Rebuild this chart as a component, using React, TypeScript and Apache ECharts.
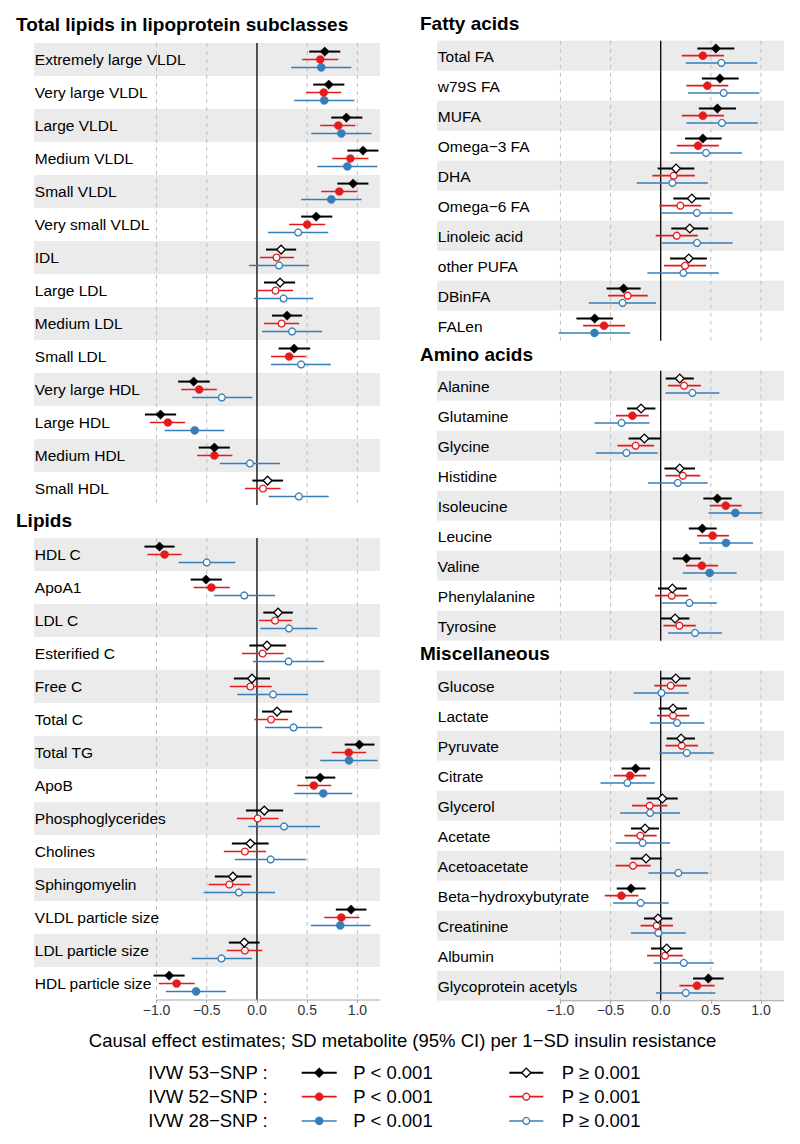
import React, { useEffect, useRef } from 'react';
import * as echarts from 'echarts';

// ---------------- DATA ----------------
// each entry: [estimate, lower 95% CI, upper 95% CI, significant (1 = P < 0.001)]
const lipoCats = [
  'Extremely large VLDL', 'Very large VLDL', 'Large VLDL', 'Medium VLDL', 'Small VLDL',
  'Very small VLDL', 'IDL', 'Large LDL', 'Medium LDL', 'Small LDL',
  'Very large HDL', 'Large HDL', 'Medium HDL', 'Small HDL',
];
const lipo53 = [
  [0.675, 0.52, 0.83, 1], [0.715, 0.56, 0.87, 1], [0.89, 0.74, 1.05, 1], [1.056, 0.9, 1.21, 1],
  [0.957, 0.8, 1.11, 1], [0.59, 0.44, 0.75, 1], [0.24, 0.09, 0.39, 0], [0.23, 0.07, 0.38, 0],
  [0.3, 0.15, 0.45, 1], [0.37, 0.215, 0.53, 1], [-0.63, -0.785, -0.47, 1], [-0.96, -1.116, -0.805, 1],
  [-0.424, -0.58, -0.27, 1], [0.106, -0.046, 0.26, 0],
];
const lipo52 = [
  [0.63, 0.45, 0.81, 1], [0.665, 0.49, 0.84, 1], [0.81, 0.63, 0.98, 1], [0.93, 0.75, 1.11, 1],
  [0.82, 0.64, 1.0, 1], [0.5, 0.32, 0.68, 1], [0.195, 0.03, 0.37, 0], [0.185, 0.01, 0.36, 0],
  [0.245, 0.07, 0.42, 0], [0.32, 0.14, 0.49, 1], [-0.575, -0.755, -0.4, 1], [-0.887, -1.066, -0.715, 1],
  [-0.424, -0.596, -0.245, 1], [0.06, -0.12, 0.235, 0],
];
const lipo28 = [
  [0.64, 0.34, 0.94, 1], [0.67, 0.37, 0.97, 1], [0.84, 0.54, 1.14, 1], [0.9, 0.6, 1.2, 1],
  [0.74, 0.44, 1.04, 1], [0.41, 0.11, 0.71, 0], [0.22, -0.08, 0.52, 0], [0.265, -0.03, 0.56, 0],
  [0.35, 0.05, 0.65, 0], [0.44, 0.14, 0.735, 0], [-0.35, -0.645, -0.046, 0], [-0.62, -0.92, -0.325, 1],
  [-0.07, -0.37, 0.23, 0], [0.417, 0.116, 0.715, 0],
];

const lipidCats = [
  'HDL C', 'ApoA1', 'LDL C', 'Esterified C', 'Free C', 'Total C', 'Total TG', 'ApoB',
  'Phosphoglycerides', 'Cholines', 'Sphingomyelin', 'VLDL particle size', 'LDL particle size', 'HDL particle size',
];
const lipid53 = [
  [-0.97, -1.12, -0.82, 1], [-0.507, -0.66, -0.35, 1], [0.21, 0.063, 0.357, 0], [0.1, -0.076, 0.29, 0],
  [-0.05, -0.23, 0.13, 0], [0.2, 0.05, 0.35, 0], [1.02, 0.874, 1.17, 1], [0.63, 0.48, 0.78, 1],
  [0.073, -0.11, 0.26, 0], [-0.066, -0.25, 0.116, 0], [-0.24, -0.42, -0.053, 0], [0.937, 0.785, 1.09, 1],
  [-0.126, -0.28, 0.026, 0], [-0.874, -1.03, -0.72, 1],
];
const lipid52 = [
  [-0.92, -1.09, -0.75, 1], [-0.454, -0.63, -0.27, 1], [0.18, 0.02, 0.35, 0], [0.056, -0.15, 0.265, 0],
  [-0.066, -0.27, 0.146, 0], [0.14, -0.026, 0.31, 0], [0.914, 0.745, 1.086, 1], [0.566, 0.4, 0.74, 1],
  [0.007, -0.2, 0.215, 0], [-0.12, -0.33, 0.09, 0], [-0.275, -0.48, -0.066, 0], [0.84, 0.67, 1.02, 1],
  [-0.12, -0.3, 0.053, 0], [-0.8, -0.977, -0.62, 1],
];
const lipid28 = [
  [-0.5, -0.78, -0.215, 0], [-0.126, -0.427, 0.18, 0], [0.318, 0.033, 0.6, 0], [0.315, -0.04, 0.67, 0],
  [0.16, -0.195, 0.51, 0], [0.364, 0.08, 0.65, 0], [0.917, 0.63, 1.2, 1], [0.66, 0.37, 0.95, 1],
  [0.27, -0.086, 0.626, 0], [0.136, -0.22, 0.487, 0], [-0.18, -0.53, 0.18, 0], [0.83, 0.536, 1.13, 1],
  [-0.354, -0.65, -0.05, 0], [-0.606, -0.907, -0.308, 1],
];

const faCats = [
  'Total FA', 'w79S FA', 'MUFA', 'Omega\u22123 FA', 'DHA', 'Omega\u22126 FA', 'Linoleic acid', 'other PUFA', 'DBinFA', 'FALen',
];
const fa53 = [
  [0.55, 0.365, 0.734, 1], [0.59, 0.41, 0.777, 1], [0.565, 0.38, 0.75, 1], [0.42, 0.243, 0.608, 1],
  [0.153, -0.03, 0.335, 0], [0.31, 0.126, 0.49, 0], [0.29, 0.106, 0.475, 0], [0.28, 0.093, 0.46, 0],
  [-0.37, -0.54, -0.2, 1], [-0.658, -0.84, -0.475, 1],
];
const fa52 = [
  [0.42, 0.21, 0.63, 1], [0.465, 0.256, 0.674, 1], [0.42, 0.21, 0.63, 1], [0.372, 0.16, 0.58, 1],
  [0.13, -0.083, 0.34, 0], [0.196, -0.013, 0.405, 0], [0.16, -0.05, 0.37, 0], [0.243, 0.033, 0.452, 0],
  [-0.33, -0.525, -0.13, 0], [-0.565, -0.774, -0.355, 1],
];
const fa28 = [
  [0.605, 0.25, 0.963, 0], [0.628, 0.272, 0.983, 0], [0.61, 0.256, 0.967, 0], [0.452, 0.093, 0.81, 0],
  [0.116, -0.24, 0.47, 0], [0.36, 0.0, 0.718, 0], [0.362, 0.007, 0.718, 0], [0.226, -0.133, 0.58, 0],
  [-0.38, -0.718, -0.047, 0], [-0.66, -1.017, -0.305, 1],
];

const aaCats = [
  'Alanine', 'Glutamine', 'Glycine', 'Histidine', 'Isoleucine', 'Leucine', 'Valine', 'Phenylalanine', 'Tyrosine',
];
const aa53 = [
  [0.19, 0.05, 0.33, 0], [-0.196, -0.335, -0.053, 0], [-0.163, -0.32, 0.0, 0], [0.19, 0.037, 0.342, 0],
  [0.565, 0.425, 0.708, 1], [0.415, 0.28, 0.558, 1], [0.256, 0.12, 0.4, 1], [0.116, -0.027, 0.26, 0],
  [0.143, 0.003, 0.286, 0],
];
const aa52 = [
  [0.233, 0.073, 0.4, 0], [-0.282, -0.445, -0.12, 1], [-0.25, -0.432, -0.066, 0], [0.22, 0.047, 0.395, 0],
  [0.648, 0.488, 0.807, 1], [0.518, 0.362, 0.68, 1], [0.41, 0.252, 0.571, 1], [0.11, -0.056, 0.276, 0],
  [0.186, 0.027, 0.35, 0],
];
const aa28 = [
  [0.316, 0.047, 0.585, 0], [-0.39, -0.66, -0.113, 0], [-0.342, -0.648, -0.03, 0], [0.17, -0.126, 0.468, 0],
  [0.744, 0.475, 1.013, 1], [0.651, 0.382, 0.92, 1], [0.488, 0.22, 0.757, 1], [0.286, 0.007, 0.56, 0],
  [0.342, 0.073, 0.61, 0],
];

const miscCats = [
  'Glucose', 'Lactate', 'Pyruvate', 'Citrate', 'Glycerol', 'Acetate', 'Acetoacetate',
  'Beta\u2212hydroxybutyrate', 'Creatinine', 'Albumin', 'Glycoprotein acetyls',
];
const misc53 = [
  [0.15, 0.003, 0.296, 0], [0.123, -0.02, 0.262, 0], [0.203, 0.06, 0.342, 0], [-0.25, -0.39, -0.106, 1],
  [0.017, -0.14, 0.17, 0], [-0.156, -0.296, -0.017, 0], [-0.146, -0.3, 0.01, 0], [-0.296, -0.438, -0.15, 1],
  [-0.027, -0.166, 0.116, 0], [0.06, -0.096, 0.216, 0], [0.475, 0.322, 0.628, 1],
];
const misc52 = [
  [0.1, -0.063, 0.262, 0], [0.123, -0.037, 0.286, 0], [0.21, 0.047, 0.372, 0], [-0.306, -0.468, -0.143, 1],
  [-0.11, -0.286, 0.066, 0], [-0.203, -0.362, -0.04, 0], [-0.276, -0.45, -0.1, 0], [-0.392, -0.558, -0.223, 1],
  [-0.04, -0.2, 0.123, 0], [0.043, -0.136, 0.22, 0], [0.362, 0.186, 0.538, 1],
];
const misc28 = [
  [0.007, -0.27, 0.28, 0], [0.163, -0.106, 0.435, 0], [0.26, -0.013, 0.528, 0], [-0.332, -0.6, -0.06, 0],
  [-0.106, -0.405, 0.193, 0], [-0.18, -0.45, 0.093, 0], [0.176, -0.123, 0.475, 0], [-0.2, -0.475, 0.08, 0],
  [-0.023, -0.296, 0.25, 0], [0.23, -0.07, 0.53, 0], [0.25, -0.047, 0.545, 0],
];

const xTicks = [-1, -0.5, 0, 0.5, 1];
const modelNames = ['IVW 53\u2212SNP :', 'IVW 52\u2212SNP :', 'IVW 28\u2212SNP :'];
const sigLabels = ['P < 0.001', 'P \u2265 0.001'];
const axisTitle = 'Causal effect estimates; SD metabolite (95% CI) per 1\u2212SD insulin resistance';
const panelTitles = ['Total lipids in lipoprotein subclasses', 'Lipids', 'Fatty acids', 'Amino acids', 'Miscellaneous'];

// ---------------- STYLE / LAYOUT ----------------
const FONT = "'Liberation Sans', Arial, Helvetica, sans-serif";
const MODEL_COLORS = ['#000000', '#E41A1C', '#377EB8'];
const MODEL_LW = [2, 1.7, 1.5];
const MODEL_OFFSET = [-0.24, 0, 0.24];
const MODEL_SHAPE = ['diamond', 'circle', 'circle'];

const panels = [
  { cats: lipoCats, sets: [lipo53, lipo52, lipo28], axis: false, left: 34, width: 346, top: 43, rowH: 33, xmin: -2.22, xmax: 1.225, tx: 16, ty: 24.5 },
  { cats: lipidCats, sets: [lipid53, lipid52, lipid28], axis: true, left: 34, width: 346, top: 538, rowH: 33, xmin: -2.22, xmax: 1.225, tx: 16, ty: 520.5 },
  { cats: faCats, sets: [fa53, fa52, fa28], axis: false, left: 437, width: 347, top: 40.7, rowH: 30, xmin: -2.23, xmax: 1.229, tx: 420, ty: 23 },
  { cats: aaCats, sets: [aa53, aa52, aa28], axis: false, left: 437, width: 347, top: 370.7, rowH: 30, xmin: -2.23, xmax: 1.229, tx: 420, ty: 354 },
  { cats: miscCats, sets: [misc53, misc52, misc28], axis: true, left: 437, width: 347, top: 670.7, rowH: 30, xmin: -2.23, xmax: 1.229, tx: 420, ty: 653.3 },
];

function markerShape(shape: string, x: number, y: number, color: string, filled: boolean, legend = false): any {
  if (shape === 'diamond') {
    const r = filled ? (legend ? 5 : 4.7) : (legend ? 4.6 : 4.4);
    return {
      type: 'polygon',
      shape: { points: [[x, y - r], [x + r, y], [x, y + r], [x - r, y]] },
      style: { fill: filled ? color : '#ffffff', stroke: color, lineWidth: filled ? 0.5 : 1.3 },
    };
  }
  return {
    type: 'circle',
    shape: { cx: x, cy: y, r: filled ? 4.1 : 3.4 },
    style: { fill: filled ? color : '#ffffff', stroke: color, lineWidth: filled ? 0.3 : 1.3 },
  };
}

const fmtTick = (v: number) => (v < 0 ? '\u2212' : '') + Math.abs(v).toFixed(1);

function buildOption() {
  const grid: any[] = [];
  const xAxis: any[] = [];
  const yAxis: any[] = [];
  const series: any[] = [];
  const graphic: any[] = [];

  panels.forEach((p, gi) => {
    const n = p.cats.length;
    grid.push({ left: p.left, top: p.top, width: p.width, height: n * p.rowH, containLabel: false });
    xAxis.push({
      gridIndex: gi, type: 'value', min: p.xmin, max: p.xmax, show: p.axis,
      axisLine: { show: false, onZero: false },
      splitLine: { show: false },
      axisTick: { show: true, customValues: xTicks, length: 3, lineStyle: { color: '#A6A6A6', width: 1 } },
      axisLabel: { customValues: xTicks, formatter: fmtTick, fontSize: 14, color: '#333333', margin: 2.5, fontFamily: FONT },
    });
    yAxis.push({ gridIndex: gi, type: 'value', min: 0, max: n, inverse: true, show: false });

    // bands
    series.push({
      type: 'custom', xAxisIndex: gi, yAxisIndex: gi, z: 1, silent: true,
      data: p.cats.map((_, i) => [0, i]), encode: { x: 0, y: 1 },
      renderItem: (params: any, api: any) => {
        const i = api.value(1);
        const cs = params.coordSys;
        if (i % 2 !== 0) return { type: 'group', children: [] };
        const a = api.coord([0, i]);
        const b = api.coord([0, i + 1]);
        return { type: 'rect', shape: { x: cs.x, y: a[1], width: cs.width, height: b[1] - a[1] }, style: { fill: '#EBEBEB' } };
      },
    });
    // reference lines
    series.push({
      type: 'custom', xAxisIndex: gi, yAxisIndex: gi, z: 2, silent: true,
      data: xTicks.map((v) => [v, 0]), encode: { x: 0, y: 1 },
      renderItem: (params: any, api: any) => {
        const cs = params.coordSys;
        const v = api.value(0);
        const x = api.coord([v, 0])[0];
        const isZero = v === 0;
        return {
          type: 'line',
          shape: { x1: x, y1: cs.y, x2: x, y2: cs.y + cs.height },
          style: isZero ? { stroke: '#000000', lineWidth: 1.3 } : { stroke: '#BDBDBD', lineWidth: 1, lineDash: [4, 4] },
        };
      },
    });
    if (p.axis) {
      series.push({
        type: 'custom', xAxisIndex: gi, yAxisIndex: gi, z: 2, silent: true,
        data: [[xTicks[0], n]], encode: { x: 0, y: 1 },
        renderItem: (params: any, api: any) => {
          const cs = params.coordSys;
          const a = api.coord([api.value(0), api.value(1)]);
          return { type: 'line', shape: { x1: a[0], y1: a[1], x2: cs.x + cs.width, y2: a[1] }, style: { stroke: '#A6A6A6', lineWidth: 1.1 } };
        },
      });
    }
    // labels
    series.push({
      type: 'custom', xAxisIndex: gi, yAxisIndex: gi, z: 3, silent: true,
      data: p.cats.map((_, i) => [0, i]), encode: { x: 0, y: 1 },
      renderItem: (params: any, api: any) => {
        const i = api.value(1);
        const cs = params.coordSys;
        const c = api.coord([0, i + 0.5]);
        return {
          type: 'text', x: cs.x + 0.8, y: c[1] + 0.3,
          style: { text: p.cats[params.dataIndex], fontSize: 15.5, fontFamily: FONT, fill: '#000000', align: 'left', verticalAlign: 'middle' },
        };
      },
    });
    // estimates
    p.sets.forEach((set, k) => {
      const color = MODEL_COLORS[k];
      series.push({
        type: 'custom', xAxisIndex: gi, yAxisIndex: gi, z: 4 + (2 - k), silent: true,
        data: set.map((d, i) => [d[0], i, d[1], d[2], d[3]]), encode: { x: 0, y: 1 },
        renderItem: (params: any, api: any) => {
          const y = api.value(1) + 0.5 + MODEL_OFFSET[k];
          const e = api.coord([api.value(0), y]);
          const lo = api.coord([api.value(2), y]);
          const hi = api.coord([api.value(3), y]);
          const filled = api.value(4) === 1;
          return {
            type: 'group',
            children: [
              { type: 'line', shape: { x1: lo[0], y1: lo[1], x2: hi[0], y2: hi[1] }, style: { stroke: color, lineWidth: MODEL_LW[k] } },
              markerShape(MODEL_SHAPE[k], e[0], e[1], color, filled),
            ],
          };
        },
      });
    });

    graphic.push({
      type: 'text', x: p.tx, y: p.ty,
      style: { text: panelTitles[gi], fontSize: 19, fontWeight: 'bold', fontFamily: FONT, fill: '#000000', align: 'left', verticalAlign: 'middle', textAlign: 'left', textVerticalAlign: 'middle' },
    });
  });

  // axis title
  graphic.push({
    type: 'text', x: 402.5, y: 1040,
    style: { text: axisTitle, fontSize: 18.5, fontFamily: FONT, fill: '#000000', align: 'center', verticalAlign: 'middle', textAlign: 'center', textVerticalAlign: 'middle' },
  });
  // legend
  const rowY = [1072.7, 1096.7, 1120.9];
  modelNames.forEach((name, k) => {
    const y = rowY[k];
    const color = MODEL_COLORS[k];
    graphic.push({
      type: 'text', x: 148.3, y,
      style: { text: name, fontSize: 18.5, fontFamily: FONT, fill: '#000000', align: 'left', verticalAlign: 'middle', textAlign: 'left', textVerticalAlign: 'middle' },
    });
    [0, 1].forEach((s) => {
      const x1 = s === 0 ? 301.7 : 509.3;
      const x2 = s === 0 ? 336.7 : 543.3;
      const tx = s === 0 ? 353.3 : 561.7;
      graphic.push({ type: 'line', shape: { x1, y1: y, x2, y2: y }, style: { stroke: color, lineWidth: MODEL_LW[k] } });
      graphic.push(markerShape(MODEL_SHAPE[k], (x1 + x2) / 2, y, color, s === 0, true));
      graphic.push({
        type: 'text', x: tx, y,
        style: { text: sigLabels[s], fontSize: 18.5, fontFamily: FONT, fill: '#000000', align: 'left', verticalAlign: 'middle', textAlign: 'left', textVerticalAlign: 'middle' },
      });
    });
  });

  return { animation: false, backgroundColor: '#ffffff', grid, xAxis, yAxis, series, graphic };
}

export default function App() {
  const ref = useRef<HTMLDivElement>(null);
  useEffect(() => {
    if (!ref.current) return;
    const chart = echarts.init(ref.current, null, { renderer: 'svg' });
    chart.setOption(buildOption() as any);
    return () => chart.dispose();
  }, []);
  return <div ref={ref} style={{ position: 'absolute', left: 0, top: 0, width: 800, height: 1144, background: '#ffffff' }} />;
}
